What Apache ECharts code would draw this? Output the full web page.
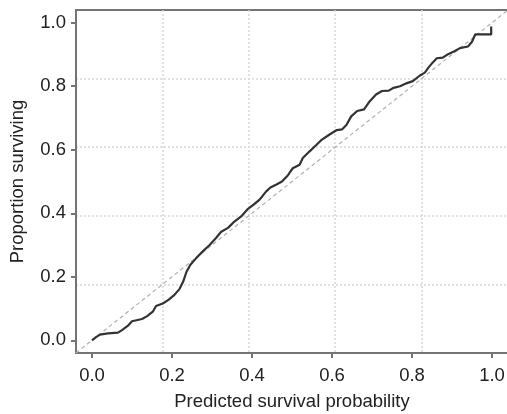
<!DOCTYPE html>
<html>
<head>
<meta charset="utf-8">
<script src="https://cdn.jsdelivr.net/npm/echarts@6/dist/echarts.min.js"></script>
<style>
  html, body { margin: 0; padding: 0; background: #fff; }
  #chart { width: 507px; height: 414px; }
</style>
</head>
<body>
<div id="chart"></div>
<script>
// calibration curve
const predX = [0.0, 0.01, 0.02, 0.04, 0.065, 0.075, 0.09, 0.1, 0.125, 0.138, 0.152, 0.16, 0.177, 0.192, 0.206, 0.219, 0.228, 0.236, 0.246, 0.26,
  0.277, 0.294, 0.31, 0.323, 0.34, 0.356, 0.373, 0.39, 0.404, 0.419, 0.435, 0.446, 0.46, 0.475, 0.49, 0.502, 0.519, 0.527, 0.544, 0.56,
  0.573, 0.594, 0.612, 0.625, 0.636, 0.648, 0.663, 0.68, 0.694, 0.71, 0.725, 0.742, 0.754, 0.77, 0.786, 0.802, 0.819, 0.832, 0.842, 0.852,
  0.862, 0.877, 0.89, 0.906, 0.92, 0.94, 0.95, 0.958, 0.998, 0.998]
const propY = [0.0, 0.01, 0.018, 0.022, 0.024, 0.032, 0.046, 0.06, 0.067, 0.076, 0.09, 0.108, 0.116, 0.128, 0.143, 0.162, 0.185, 0.215, 0.238, 0.258,
  0.28, 0.3, 0.322, 0.342, 0.354, 0.374, 0.39, 0.414, 0.427, 0.443, 0.468, 0.481, 0.49, 0.5, 0.52, 0.542, 0.553, 0.574, 0.595, 0.614,
  0.63, 0.648, 0.662, 0.664, 0.678, 0.705, 0.722, 0.727, 0.752, 0.774, 0.785, 0.786, 0.795, 0.8, 0.809, 0.816, 0.833, 0.843, 0.86, 0.875,
  0.888, 0.89, 0.901, 0.91, 0.92, 0.925, 0.94, 0.963, 0.963, 0.988]
// reference line y = x across the whole plot
const refX = [-0.04, 1.04]
const refY = [-0.04, 1.04]
// tick labels on both axes
const ticks = [0, 0.2, 0.4, 0.6, 0.8, 1.0]

let mychart = echarts.init(document.getElementById('chart'))

let axisCol = '#747474'
let font = 'Liberation Sans, Arial, sans-serif'

// main axis (ticks + labels)
function mainAxis(name, gap, margin) {
  return {
    type: 'value',
    min: -0.04,
    max: 1.04,
    name: name,
    nameLocation: 'middle',
    nameGap: gap,
    nameTextStyle: { color: '#222', fontSize: 18.5, fontFamily: font },
    axisLine: { show: true, onZero: false, lineStyle: { color: axisCol, width: 2 } },
    axisTick: { show: true, customValues: ticks, length: 5, lineStyle: { color: axisCol, width: 2 } },
    axisLabel: {
      customValues: ticks,
      color: '#222',
      fontSize: 18.5,
      fontFamily: font,
      margin: margin,
      formatter: v => v.toFixed(1)
    },
    splitLine: { show: false }
  }
}

// hidden axis just for the dotted grid (range split into 5)
function gridAxis(pos) {
  return {
    type: 'value',
    position: pos,
    min: 0,
    max: 5,
    interval: 1,
    axisLine: { show: false },
    axisTick: { show: false },
    axisLabel: { show: false },
    splitLine: {
      show: true,
      showMinLine: false,
      showMaxLine: false,
      lineStyle: { color: '#d8d8d8', type: [2, 2], width: 1.5 }
    }
  }
}

let option = {
  animation: false,
  backgroundColor: '#fff',
  grid: {
    left: 76,
    right: -1,
    top: 10,
    bottom: 61,
    outerBoundsMode: 'none',
    containLabel: false,
    show: true,
    borderColor: axisCol,
    borderWidth: 2
  },
  xAxis: [mainAxis('Predicted survival probability', 39, 13), gridAxis('top')],
  yAxis: [mainAxis('Proportion surviving', 49, 10), gridAxis('right')],
  series: [
    {
      type: 'line',
      xAxisIndex: 0,
      yAxisIndex: 0,
      data: refX.map((x, i) => [x, refY[i]]),
      symbol: 'none',
      lineStyle: { color: '#b0b0b0', width: 1.2, type: [4, 3] },
      z: 2
    },
    {
      type: 'line',
      xAxisIndex: 0,
      yAxisIndex: 0,
      data: predX.map((x, i) => [x, propY[i]]),
      symbol: 'none',
      lineStyle: { color: '#333', width: 2.2 },
      z: 3
    }
  ]
}

mychart.setOption(option)
</script>
</body>
</html>
